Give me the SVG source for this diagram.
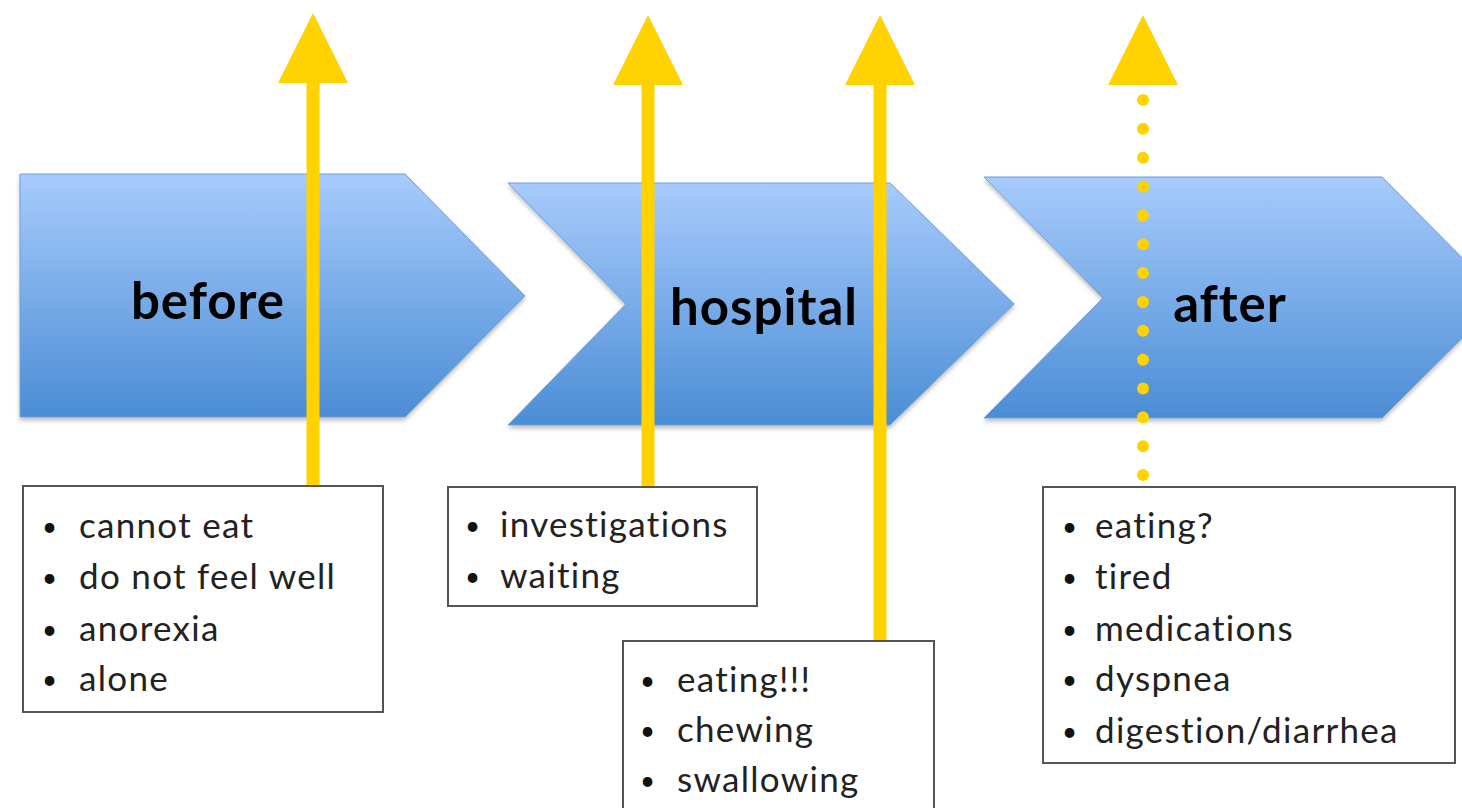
<svg xmlns="http://www.w3.org/2000/svg" width="1462" height="808" viewBox="0 0 1462 808">
<defs>
<linearGradient id="blue" x1="0" y1="0" x2="0" y2="1">
<stop offset="0" stop-color="#a7cbfc"/>
<stop offset="1" stop-color="#4b8dd5"/>
</linearGradient>
<filter id="sh" x="-5%" y="-5%" width="110%" height="115%">
<feDropShadow dx="0" dy="3" stdDeviation="2" flood-color="#000" flood-opacity="0.25"/>
</filter>
</defs>
<style>
.chev{fill:url(#blue);stroke:#6f9fd8;stroke-width:1;filter:url(#sh)}
.lbl{font-family:Lato,"Open Sans",sans-serif;font-weight:bold;font-size:51px;letter-spacing:1px;fill:#000}
.box{fill:#fff;stroke:#555;stroke-width:2}
.t{font-family:Lato,"Open Sans",sans-serif;font-size:35px;letter-spacing:1.3px;fill:#222}
.b{font-family:Lato,"Open Sans",sans-serif;font-size:26px;fill:#111}
.arr{stroke:#ffd200;stroke-width:13;fill:none}
.dot{stroke:#ffd200;stroke-width:12;fill:none;stroke-linecap:round;stroke-dasharray:0 28.85}
.head{fill:#ffd200}
</style>
<g id="before">
<path class="chev" d="M20,174 L405,174 L525,296 L405,417 L20,417 Z"/>
<text class="lbl" x="208" y="319" text-anchor="middle">before</text>
</g>
<g id="hospital">
<path class="chev" d="M508,183 L890,183 L1014,304 L890,425 L508,425 L626,304 Z"/>
<text class="lbl" x="764" y="325" text-anchor="middle">hospital</text>
</g>
<g id="after">
<path class="chev" d="M984,177 L1382,177 L1502,298 L1382,418 L984,418 L1103,298 Z"/>
<text class="lbl" x="1230" y="322" text-anchor="middle">after</text>
</g>
<g id="connectors">
<line class="arr" x1="313" y1="80" x2="313" y2="487"/>
<polygon class="head" points="313,13 278,83 348,83"/>
<line class="arr" x1="648" y1="80" x2="648" y2="487"/>
<polygon class="head" points="648,15 613,85 683,85"/>
<line class="arr" x1="880" y1="80" x2="880" y2="641"/>
<polygon class="head" points="880,15 845,85 915,85"/>
<line class="dot" x1="1143" y1="100" x2="1143" y2="475.1"/>
<polygon class="head" points="1143,15 1108,85 1178,85"/>
</g>
<g id="box-before">
<rect class="box" x="23" y="486" width="360" height="226"/>
<text class="b" x="42" y="536">•</text><text class="t" x="79" y="538">cannot eat</text>
<text class="b" x="42" y="587">•</text><text class="t" x="79" y="589">do not feel well</text>
<text class="b" x="42" y="639">•</text><text class="t" x="79" y="641">anorexia</text>
<text class="b" x="42" y="689">•</text><text class="t" x="79" y="691">alone</text>
</g>
<g id="box-hospital">
<rect class="box" x="448" y="487" width="309" height="119"/>
<text class="b" x="465" y="535">•</text><text class="t" x="500" y="537">investigations</text>
<text class="b" x="465" y="586">•</text><text class="t" x="500" y="588">waiting</text>
</g>
<g id="box-eating">
<rect class="box" x="623" y="641" width="311" height="180"/>
<text class="b" x="640" y="690">•</text><text class="t" x="677" y="692">eating!!!</text>
<text class="b" x="640" y="740">•</text><text class="t" x="677" y="742">chewing</text>
<text class="b" x="640" y="790">•</text><text class="t" x="677" y="792">swallowing</text>
</g>
<g id="box-after">
<rect class="box" x="1043" y="487" width="412" height="276"/>
<text class="b" x="1062" y="536">•</text><text class="t" x="1095" y="538">eating?</text>
<text class="b" x="1062" y="587">•</text><text class="t" x="1095" y="589">tired</text>
<text class="b" x="1062" y="639">•</text><text class="t" x="1095" y="641">medications</text>
<text class="b" x="1062" y="689">•</text><text class="t" x="1095" y="691">dyspnea</text>
<text class="b" x="1062" y="741">•</text><text class="t" x="1095" y="743">digestion/diarrhea</text>
</g>
</svg>
